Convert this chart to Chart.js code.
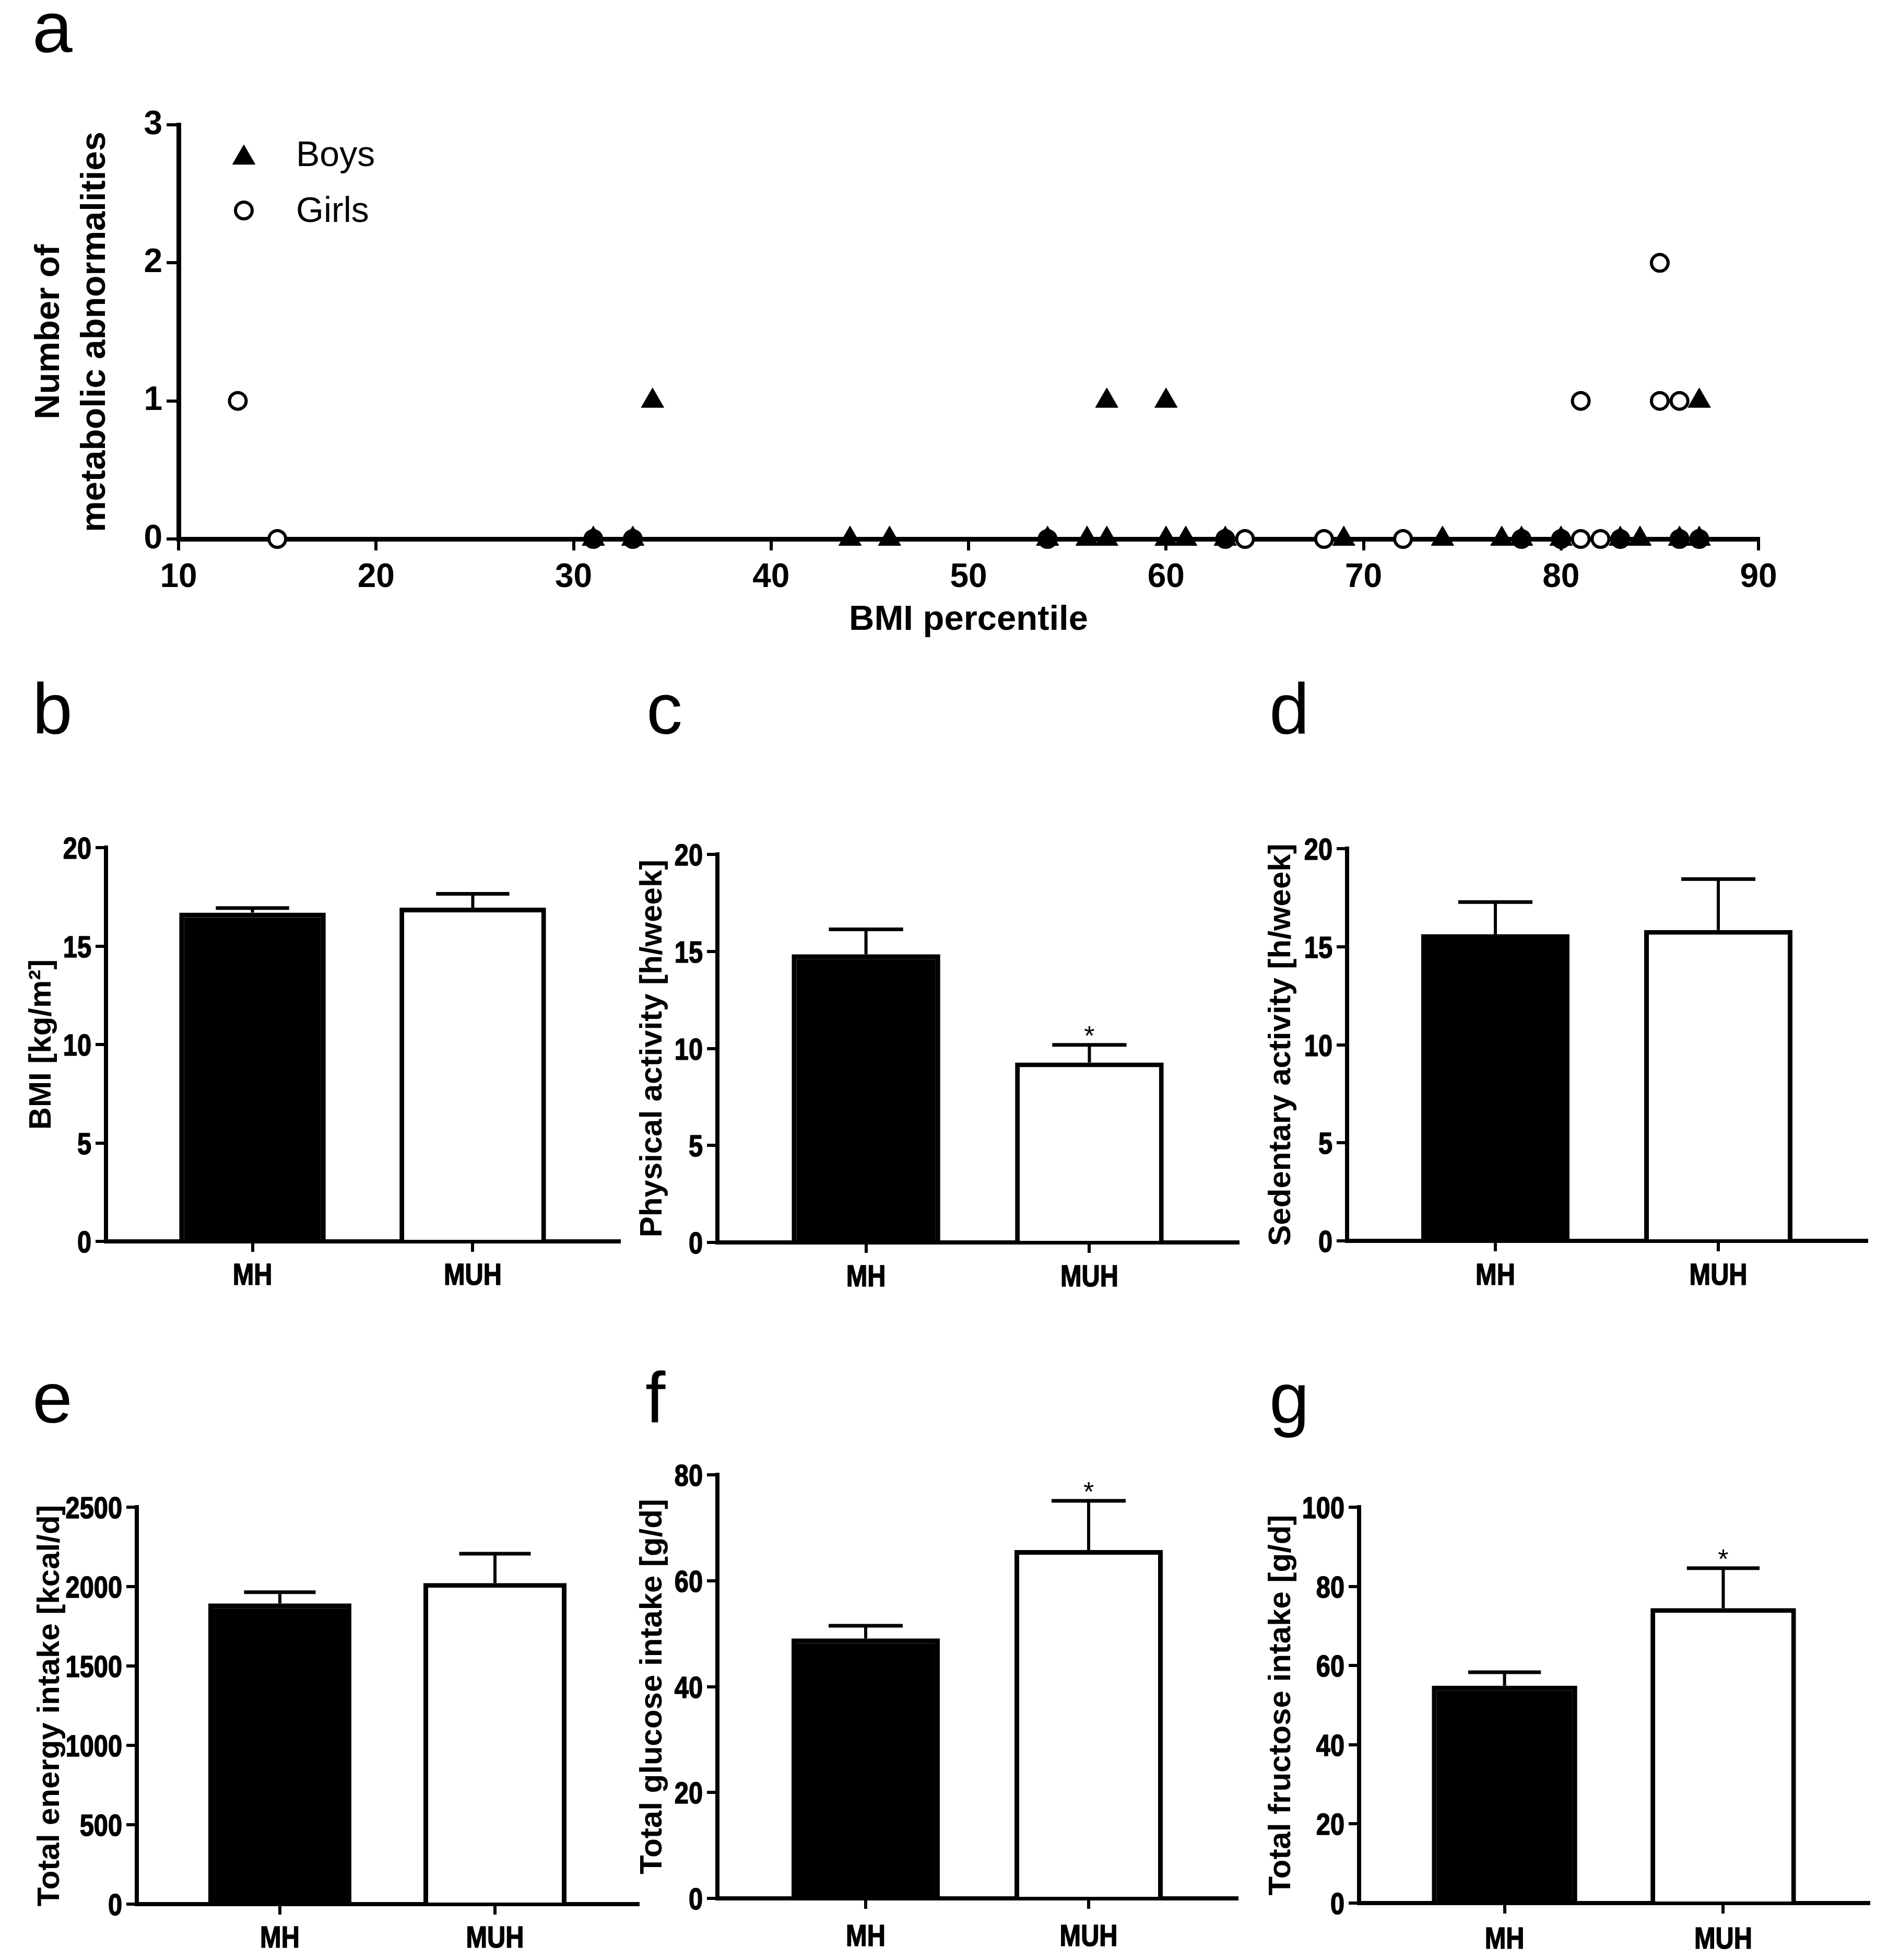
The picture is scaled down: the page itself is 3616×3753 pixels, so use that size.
<!DOCTYPE html>
<html>
<head>
<meta charset="utf-8">
<script src="https://cdn.jsdelivr.net/npm/chart.js"></script>
<style>
  html, body { margin: 0; padding: 0; background: #fff; }
  #page { position: relative; width: 3616px; height: 3753px; overflow: hidden; background: #fff; }
  .panel { position: absolute; }
  .letter { position: absolute; font-family: "Liberation Sans", Arial, sans-serif; font-size: 138px; line-height: 1; color: #000; }
</style>
</head>
<body>
<div id="page">
  <div class="letter" style="left:62px;top:-17px">a</div>
  <div class="letter" style="left:62px;top:1288px">b</div>
  <div class="letter" style="left:1238px;top:1288px">c</div>
  <div class="letter" style="left:2431px;top:1288px">d</div>
  <div class="letter" style="left:62px;top:2607px">e</div>
  <div class="letter" style="left:1236px;top:2607px">f</div>
  <div class="letter" style="left:2431px;top:2607px">g</div>
</div>
<script>
// ---- panel a: BMI percentile vs number of metabolic abnormalities
const boysBMI  = [31, 33, 34, 44, 46, 54, 56, 57, 57, 60, 60, 61, 63, 69, 74, 77, 78, 80, 83, 84, 86, 87, 87];
const boysAbn  = [0, 0, 1, 0, 0, 0, 0, 0, 1, 0, 1, 0, 0, 0, 0, 0, 0, 0, 0, 0, 0, 0, 1];
const girlsBMI = [13, 15, 31, 33, 54, 63, 64, 68, 72, 78, 80, 81, 81, 82, 83, 85, 85, 86, 86, 87];
const girlsAbn = [1, 0, 0, 0, 0, 0, 0, 0, 0, 0, 0, 0, 1, 0, 0, 1, 2, 0, 1, 0];

// ---- panels b-g: mean and SEM for each group
const groups = ['MH', 'MUH'];
const bmiMean      = [16.7, 16.95];  const bmiSem      = [0.23, 0.7];
const physMean     = [14.85, 9.27];  const physSem     = [1.29, 0.91];
const sedMean      = [15.63, 15.85]; const sedSem      = [1.65, 2.6];
const energyMean   = [1894, 2022];   const energySem   = [71, 185];
const glucoseMean  = [49.1, 65.8];   const glucoseSem  = [2.4, 9.3];
const fructoseMean = [54.9, 74.5];   const fructoseSem = [3.4, 10.1];
const bmiSig = [false, false], physSig = [false, true], sedSig = [false, false];
const energySig = [false, false], glucoseSig = [false, true], fructoseSig = [false, true];

const SANS = '"Liberation Sans", Arial, sans-serif';

Chart.defaults.animation = false;
Chart.defaults.color = '#000';

function addPanel(id, box) {
  const div = document.createElement('div');
  div.className = 'panel';
  div.style.left = box[0] + 'px';
  div.style.top = box[1] + 'px';
  div.style.width = (box[2] - box[0]) + 'px';
  div.style.height = (box[3] - box[1]) + 'px';
  const cv = document.createElement('canvas');
  cv.id = id;
  div.appendChild(cv);
  document.getElementById('page').appendChild(div);
  return cv.getContext('2d');
}

// legend drawn inside the plot area of panel a
const insideLegend = {
  id: 'insideLegend',
  afterDatasetsDraw(chart) {
    const {ctx, chartArea} = chart;
    const rows = [57, 164];
    ctx.save();
    chart.data.datasets.forEach((ds, i) => {
      const cx = chartArea.left + 125;
      const cy = chartArea.top + rows[i];
      const yShift = ds.pointStyle === 'triangle' ? ds.pointRadius / 4 : 0;
      ctx.fillStyle = ds.backgroundColor;
      ctx.strokeStyle = ds.borderColor;
      ctx.lineWidth = ds.borderWidth;
      Chart.helpers.drawPoint(ctx, {pointStyle: ds.pointStyle, radius: ds.pointRadius, borderWidth: ds.borderWidth, rotation: 0}, cx, cy + yShift);
      ctx.fillStyle = '#000';
      ctx.font = '68px ' + SANS;
      ctx.textBaseline = 'alphabetic';
      ctx.textAlign = 'left';
      ctx.fillText(ds.label, chartArea.left + 225, cy + 22);
    });
    ctx.restore();
  }
};

// SEM bars and significance stars for the bar panels
const semBars = {
  id: 'semBars',
  afterDatasetsDraw(chart) {
    const {ctx} = chart;
    const yScale = chart.scales.y;
    const ds = chart.data.datasets[0];
    const meta = chart.getDatasetMeta(0);
    ctx.save();
    ctx.strokeStyle = '#000';
    ctx.lineCap = 'butt';
    meta.data.forEach((bar, i) => {
      const top = yScale.getPixelForValue(ds.data[i].y + ds.sem[i]);
      const half = bar.width / 4;
      ctx.lineWidth = 6;
      ctx.beginPath();
      ctx.moveTo(bar.x, bar.y);
      ctx.lineTo(bar.x, top);
      ctx.stroke();
      ctx.lineWidth = 7;
      ctx.beginPath();
      ctx.moveTo(bar.x - half, top);
      ctx.lineTo(bar.x + half, top);
      ctx.stroke();
      if (ds.sig[i]) {
        ctx.fillStyle = '#000';
        ctx.font = '52px ' + SANS;
        ctx.textAlign = 'center';
        ctx.textBaseline = 'alphabetic';
        ctx.fillText('*', bar.x, top);
      }
    });
    ctx.restore();
  }
};

// condensed bold tick labels (Arial Narrow look) placed from the chart's own scales
const narrowTicks = {
  id: 'narrowTicks',
  afterDraw(chart, args, opts) {
    const {ctx, chartArea} = chart;
    const xs = chart.scales.x, ys = chart.scales.y;
    ctx.save();
    ctx.fillStyle = '#000';
    ctx.strokeStyle = '#000';
    ctx.lineWidth = 1.6;
    ctx.lineJoin = 'round';
    ctx.font = 'bold 58px ' + SANS;
    ctx.textBaseline = 'alphabetic';
    const put = (text, x, y) => {
      ctx.save();
      ctx.translate(x, y);
      ctx.scale(opts.squeeze, 1);
      ctx.fillText(text, 0, 0);
      ctx.strokeText(text, 0, 0);
      ctx.restore();
    };
    ctx.textAlign = 'center';
    xs.ticks.forEach((t, i) => put(groups[t.value - 1] || '', xs.getPixelForTick(i), opts.labelBaseline));
    ctx.textAlign = 'right';
    ys.ticks.forEach((t, i) => put(String(t.value), chartArea.left - 28, ys.getPixelForTick(i) + 21));
    ctx.restore();
  }
};

function axisLine(w) {
  return {display: true, color: '#000', width: w};
}
function tickGrid(len) {
  return {display: true, drawOnChartArea: false, drawTicks: true, tickLength: len, color: '#000', lineWidth: 6, offset: false};
}

// ---- panel a
(function () {
  const box = [0, 180, 3460, 1250];
  const area = [342, 239, 3368, 1032];
  const ctx = addPanel('chartA', box);
  new Chart(ctx, {
    type: 'scatter',
    data: {
      datasets: [
        {
          label: 'Boys',
          data: boysBMI.map((x, i) => ({x: x, y: boysAbn[i]})),
          pointStyle: 'triangle', pointRadius: 25, pointHoverRadius: 25,
          backgroundColor: '#000', borderColor: '#000', borderWidth: 1,
          clip: false
        },
        {
          label: 'Girls',
          data: girlsBMI.map((x, i) => ({x: x, y: girlsAbn[i]})),
          pointStyle: 'circle', pointRadius: 16, pointHoverRadius: 16,
          backgroundColor: '#fff', borderColor: '#000', borderWidth: 6,
          clip: false
        }
      ]
    },
    options: {
      responsive: true,
      maintainAspectRatio: false,
      devicePixelRatio: 1,
      layout: {padding: {left: 0, top: area[1] - box[1], right: box[2] - area[2], bottom: 0}},
      plugins: {legend: {display: false}, tooltip: {enabled: false}},
      scales: {
        x: {
          type: 'linear', min: 10, max: 90,
          border: axisLine(9),
          grid: tickGrid(22),
          ticks: {stepSize: 10, font: {family: SANS, weight: 'bold', size: 64}, color: '#000', padding: 14, maxRotation: 0},
          title: {display: true, text: 'BMI percentile', font: {family: SANS, weight: 'bold', size: 67}, color: '#000', padding: {top: 0, bottom: 22}},
          afterFit: s => { s.height = box[3] - area[3]; }
        },
        y: {
          type: 'linear', min: 0, max: 3,
          border: axisLine(9),
          grid: tickGrid(23),
          ticks: {stepSize: 1, font: {family: SANS, weight: 'bold', size: 64}, color: '#000', padding: 8},
          title: {display: true, text: ['Number of', 'metabolic abnormalities'], font: {family: SANS, weight: 'bold', size: 67, lineHeight: 1.3}, color: '#000', padding: {top: 95 - 43.6, bottom: 0}},
          afterFit: s => { s.width = area[0] - box[0]; }
        }
      }
    },
    plugins: [insideLegend]
  });
})();

// ---- panels b-g
const barPanels = [
  {id: 'chartB', box: [20, 1560, 1250, 2500],   area: [203, 1623, 1186, 2377],  title: 'BMI [kg/m²]',                  max: 20,   step: 5,   mean: bmiMean,      sem: bmiSem,      sig: bmiSig,      titleX: 80,   labelY: 2439},
  {id: 'chartC', box: [1190, 1560, 2440, 2500], area: [1374, 1636, 2371, 2379], title: 'Physical activity [h/week]',   max: 20,   step: 5,   mean: physMean,     sem: physSem,     sig: physSig,     titleX: 1250, labelY: 2442},
  {id: 'chartD', box: [2394, 1560, 3616, 2500], area: [2580, 1625, 3575, 2376], title: 'Sedentary activity [h/week]',  max: 20,   step: 5,   mean: sedMean,      sem: sedSem,      sig: sedSig,      titleX: 2454, labelY: 2439},
  {id: 'chartE', box: [36, 2800, 1290, 3753],   area: [262, 2886, 1222, 3646],  title: 'Total energy intake [kcal/d]', max: 2500, step: 500, mean: energyMean,   sem: energySem,   sig: energySig,   titleX: 96,   labelY: 3708},
  {id: 'chartF', box: [1190, 2760, 2440, 3753], area: [1374, 2824, 2369, 3635], title: 'Total glucose intake [g/d]',   max: 80,   step: 20,  mean: glucoseMean,  sem: glucoseSem,  sig: glucoseSig,  titleX: 1250, labelY: 3705},
  {id: 'chartG', box: [2394, 2800, 3616, 3753], area: [2603, 2886, 3579, 3644], title: 'Total fructose intake [g/d]',  max: 100,  step: 20,  mean: fructoseMean, sem: fructoseSem, sig: fructoseSig, titleX: 2454, labelY: 3710}
];

barPanels.forEach(p => {
  const box = p.box, area = p.area;
  const ctx = addPanel(p.id, box);
  new Chart(ctx, {
    type: 'bar',
    data: {
      datasets: [{
        data: groups.map((g, i) => ({x: i + 1, y: p.mean[i]})),
        sem: p.sem,
        sig: p.sig,
        backgroundColor: ['#000', '#fff'],
        borderColor: '#000',
        borderWidth: 9,
        borderSkipped: 'start',
        categoryPercentage: 1,
        barPercentage: 0.665
      }]
    },
    options: {
      responsive: true,
      maintainAspectRatio: false,
      devicePixelRatio: 1,
      layout: {padding: {left: 0, top: area[1] - box[1], right: box[2] - area[2], bottom: 0}},
      plugins: {
        legend: {display: false},
        tooltip: {enabled: false},
        narrowTicks: {squeeze: 0.84, labelBaseline: p.labelY + 21 - box[1]}
      },
      scales: {
        x: {
          type: 'linear', min: 0.335, max: 2.665, offset: false,
          border: axisLine(8),
          grid: tickGrid(20),
          afterBuildTicks: s => { s.ticks = groups.map((g, i) => ({value: i + 1})); },
          ticks: {display: false},
          afterFit: s => { s.height = box[3] - area[3]; }
        },
        y: {
          type: 'linear', min: 0, max: p.max,
          border: axisLine(8),
          grid: tickGrid(20),
          ticks: {stepSize: p.step, display: false},
          title: {display: true, text: p.title, font: {family: SANS, weight: 'bold', size: 60}, color: '#000', padding: {top: p.titleX - box[0] - 36, bottom: 0}},
          afterFit: s => { s.width = area[0] - box[0]; }
        }
      }
    },
    plugins: [semBars, narrowTicks]
  });
});
</script>
</body>
</html>
